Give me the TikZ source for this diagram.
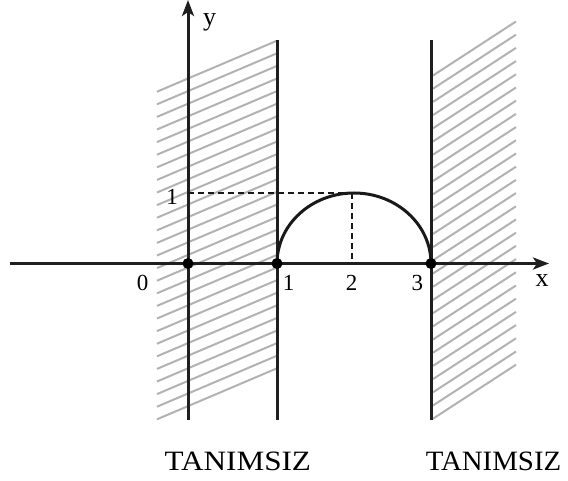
\documentclass[tikz,border=0pt]{standalone}
\usepackage{fontspec}
\setmainfont{Liberation Serif}
\usetikzlibrary{arrows.meta}
\begin{document}
\begin{tikzpicture}[x=1pt,y=-1pt,
  axisline/.style={line width=3pt,draw=black!88},
  bound/.style={line width=3pt,draw=black!88},
  hatchline/.style={line width=2pt,draw=black!30},
  curveline/.style={line width=3pt,draw=black!90},
  dashline/.style={line width=2.4pt,draw=black!90,dash pattern=on 6pt off 4pt},
  dotnode/.style={circle,fill=black,inner sep=0pt,minimum size=11pt},
  numlabel/.style={font=\fontsize{23}{23}\selectfont,inner sep=0pt,anchor=base},
  letlabel/.style={font=\fontsize{26}{26}\selectfont,inner sep=0pt,anchor=base},
  biglabel/.style={font=\fontsize{28}{28}\selectfont,inner sep=0pt,anchor=base},
  arrowtip/.style={-{Stealth[length=16pt,width=12pt,inset=4pt]}}]
\useasboundingbox (0,0) rectangle (568,481);
% hatching
\foreach \i in {0,...,26}{
  \draw[hatchline] (157,{91.7+12.6*\i}) -- (277,{40.7+12.6*\i});
  \draw[hatchline] (433,{75.5+13.2*\i}) -- (516,{21.5+13.2*\i});
}
% named points
\coordinate (xs) at (10,263.5);
\coordinate (xe) at (549,263.5);
\coordinate (ys) at (188,420);
\coordinate (ye) at (188,0);
\coordinate (at) at (277,40);
\coordinate (ab) at (277,420);
\coordinate (bt) at (431,40);
\coordinate (bb) at (431,420);
\coordinate (ty) at (188,193);
\coordinate (tp) at (352,193);
\coordinate (tx) at (352,263.5);
% bounding lines
\draw[bound] (at) -- (ab);
\draw[bound] (bt) -- (bb);
% axes
\draw[axisline,arrowtip] (xs) -- (xe);
\draw[axisline,arrowtip] (ys) -- (ye);
% dashed
\draw[dashline] (ty) -- (tp);
\draw[dashline] (tp) -- (tx);
% curve
\draw[curveline] (277,263.5) arc[start angle=180,end angle=360,x radius=77,y radius=70.5];
% dots
\node[dotnode] (O) at (188,263.5) {};
\node[dotnode] (A) at (277,263.5) {};
\node[dotnode] (B) at (431,263.5) {};
% labels
\node[numlabel] (l0) at (142.7,290.5) {0};
\node[numlabel] (l1) at (288.5,290.5) {1};
\node[numlabel] (l2) at (351.7,290.5) {2};
\node[numlabel] (l3) at (417.3,290.5) {3};
\node[numlabel] (ly1) at (172,204.3) {1};
\node[letlabel] (lx) at (542,287) {x};
\node[letlabel] (lyy) at (209.5,25.5) {y};
\node[biglabel] (t1) at (237.8,470) {\scalebox{1.114}[1]{TANIMSIZ}};
\node[biglabel] (t2) at (493.5,470) {\scalebox{1.03}[1]{TANIMSIZ}};
\end{tikzpicture}
\end{document}
